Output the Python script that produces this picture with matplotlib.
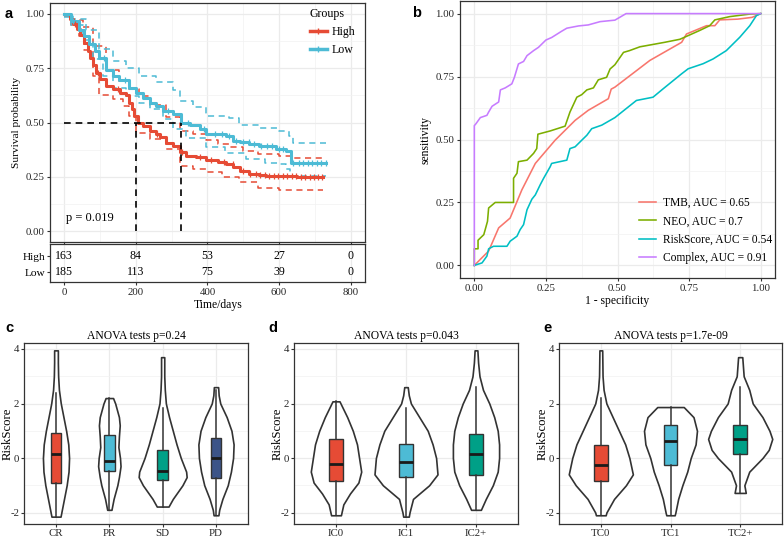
import numpy as np
import matplotlib
matplotlib.use('Agg')
import matplotlib.pyplot as plt
from matplotlib.lines import Line2D
from matplotlib.ticker import MultipleLocator, FixedLocator

plt.rcParams['font.family'] = ['Liberation Serif', 'DejaVu Serif']
plt.rcParams['axes.unicode_minus'] = False

# ---------------- data: panel a (Kaplan-Meier) ----------------
high_t = [0, 15, 25, 35, 45, 56, 65, 72, 80, 89, 100, 117, 135, 155, 173, 182, 190, 196, 205, 219, 238,
          255, 266, 285, 303, 322, 340, 368, 396, 430, 452, 471, 490, 517, 545, 564, 600, 650, 723]
high_s = [1.0, 0.975, 0.955, 0.93, 0.905, 0.866, 0.83, 0.797, 0.765, 0.728, 0.70, 0.667, 0.652, 0.638,
          0.628, 0.59, 0.56, 0.529, 0.50, 0.484, 0.461, 0.445, 0.435, 0.407, 0.392, 0.365, 0.347, 0.342,
          0.328, 0.318, 0.31, 0.293, 0.278, 0.263, 0.258, 0.255, 0.252, 0.25, 0.25]
low_t = [0, 20, 42, 55, 70, 85, 98, 117, 135, 154, 182, 200, 219, 238, 256, 275, 303, 325, 350, 378,
         396, 415, 452, 471, 490, 517, 545, 592, 620, 634, 732]
low_s = [1.0, 0.965, 0.927, 0.9, 0.862, 0.83, 0.795, 0.74, 0.715, 0.697, 0.66, 0.637, 0.612, 0.59,
         0.575, 0.555, 0.537, 0.50, 0.487, 0.468, 0.446, 0.445, 0.44, 0.415, 0.41, 0.40, 0.39, 0.377,
         0.369, 0.315, 0.313]
high_up_t = [0, 20, 51, 79, 117, 154, 182, 210, 238, 285, 322, 360, 396, 430, 461, 500, 540, 601, 640, 723]
high_up_s = [1.0, 0.97, 0.94, 0.85, 0.74, 0.69, 0.655, 0.62, 0.58, 0.525, 0.46, 0.445, 0.42, 0.40,
             0.385, 0.37, 0.355, 0.345, 0.335, 0.333]
high_lo_t = [0, 20, 42, 56, 79, 98, 135, 163, 182, 201, 238, 285, 322, 360, 396, 440, 489, 540, 601, 723]
high_lo_s = [0.99, 0.95, 0.896, 0.835, 0.712, 0.628, 0.606, 0.575, 0.529, 0.453, 0.422, 0.376, 0.30,
             0.285, 0.27, 0.25, 0.225, 0.20, 0.19, 0.19]
low_up_t = [0, 23, 61, 98, 135, 173, 210, 256, 303, 322, 360, 396, 461, 489, 545, 601, 629, 638, 732]
low_up_s = [1.0, 0.975, 0.925, 0.84, 0.785, 0.75, 0.715, 0.685, 0.65, 0.60, 0.57, 0.53, 0.52, 0.49,
            0.475, 0.46, 0.44, 0.405, 0.405]
low_lo_t = [0, 20, 51, 79, 107, 135, 173, 210, 238, 275, 303, 340, 396, 450, 508, 560, 601, 620, 630, 732]
low_lo_s = [0.985, 0.95, 0.88, 0.79, 0.712, 0.659, 0.62, 0.59, 0.56, 0.514, 0.47, 0.43, 0.385, 0.36,
            0.33, 0.315, 0.307, 0.284, 0.254, 0.254]
high_cens = [30, 95, 150, 260, 330, 380, 410, 445, 470, 500, 520, 535, 548, 560, 572, 585, 598, 610,
             622, 635, 648, 660, 672, 685, 697, 710, 720]
low_cens = [25, 110, 170, 290, 345, 390, 420, 440, 460, 480, 500, 515, 530, 550, 565, 580, 600, 612,
            640, 655, 668, 680, 692, 705, 718, 730]
median_high = 200
median_low = 325
risk_times = [0, 200, 400, 600, 800]
risk_high = [163, 84, 53, 27, 0]
risk_low = [185, 113, 75, 39, 0]
p_value_text = "p = 0.019"

# ---------------- data: panel b (ROC) ----------------
tmb_fpr = [0, 0.021, 0.05, 0.085, 0.125, 0.166, 0.213, 0.282, 0.352, 0.398, 0.468, 0.478, 0.491,
           0.613, 0.724, 0.741, 0.811, 0.84, 0.857, 0.92, 0.97, 1.0]
tmb_tpr = [0, 0.024, 0.057, 0.149, 0.188, 0.30, 0.405, 0.497, 0.576, 0.616, 0.662, 0.70, 0.708,
           0.814, 0.886, 0.919, 0.952, 0.952, 0.975, 0.978, 0.985, 1.0]
neo_fpr = [0, 0, 0.013, 0.013, 0.033, 0.038, 0.046, 0.05, 0.073, 0.137, 0.137, 0.149, 0.154, 0.184,
           0.207, 0.218, 0.222, 0.265, 0.317, 0.334, 0.358, 0.375, 0.393, 0.416, 0.433, 0.462, 0.474,
           0.491, 0.521, 0.542, 0.578, 0.665, 0.718, 0.787, 0.822, 0.84, 0.892, 0.962, 1.0]
neo_tpr = [0, 0.066, 0.066, 0.10, 0.122, 0.142, 0.175, 0.228, 0.25, 0.25, 0.346, 0.366, 0.412, 0.418,
           0.445, 0.464, 0.521, 0.534, 0.553, 0.609, 0.668, 0.678, 0.697, 0.705, 0.737, 0.747, 0.78,
           0.797, 0.846, 0.853, 0.868, 0.886, 0.898, 0.933, 0.952, 0.975, 0.988, 0.998, 1.0]
risk_fpr = [0, 0.027, 0.044, 0.05, 0.067, 0.114, 0.125, 0.149, 0.16, 0.172, 0.184, 0.201, 0.213, 0.23,
            0.242, 0.265, 0.27, 0.323, 0.334, 0.352, 0.375, 0.393, 0.41, 0.445, 0.491, 0.566, 0.624,
            0.659, 0.724, 0.747, 0.799, 0.834, 0.88, 0.927, 0.962, 0.985, 1.0]
risk_tpr = [0, 0.01, 0.037, 0.066, 0.076, 0.076, 0.096, 0.116, 0.142, 0.162, 0.221, 0.263, 0.28, 0.32,
            0.346, 0.392, 0.405, 0.418, 0.464, 0.471, 0.497, 0.517, 0.543, 0.557, 0.587, 0.655, 0.668,
            0.701, 0.761, 0.781, 0.801, 0.82, 0.853, 0.906, 0.952, 0.992, 1.0]
complex_fpr = [0, 0, 0.006, 0.021, 0.044, 0.05, 0.062, 0.085, 0.091, 0.108, 0.131, 0.14, 0.154, 0.172,
               0.184, 0.207, 0.224, 0.25, 0.27, 0.305, 0.323, 0.364, 0.398, 0.439, 0.491, 0.53, 1.0]
complex_tpr = [0, 0.555, 0.563, 0.587, 0.596, 0.609, 0.632, 0.649, 0.697, 0.705, 0.721, 0.747, 0.80,
               0.81, 0.833, 0.853, 0.866, 0.895, 0.905, 0.93, 0.942, 0.951, 0.955, 0.968, 0.974, 1.0, 1.0]
roc_labels = ["TMB, AUC = 0.65", "NEO, AUC = 0.7", "RiskScore, AUC = 0.54", "Complex, AUC = 0.91"]

# ---------------- data: panels c, d, e (violins + boxes) ----------------
c_groups = ["CR", "PR", "SD", "PD"]
c_titles = "ANOVA tests p=0.24"
c_vy = [[-2.15, -2.0, -1.5, -1.0, -0.5, 0, 0.5, 1.0, 1.5, 2.0, 2.5, 3.0, 3.5, 3.95],
        [-1.9, -1.5, -1.0, -0.7, -0.3, 0, 0.4, 0.8, 1.2, 1.5, 2.0, 2.2],
        [-1.78, -1.5, -1.0, -0.7, -0.5, 0, 0.5, 1.0, 1.5, 2.0, 2.5, 3.0, 3.7],
        [-2.1, -1.9, -1.5, -1.0, -0.5, 0, 0.5, 1.0, 1.5, 2.0, 2.3, 2.6]]
c_vw = [[0.085, 0.10, 0.15, 0.20, 0.235, 0.245, 0.23, 0.19, 0.14, 0.09, 0.055, 0.04, 0.035, 0.035],
        [0.04, 0.08, 0.15, 0.18, 0.21, 0.20, 0.17, 0.18, 0.195, 0.18, 0.11, 0.07],
        [0.11, 0.19, 0.37, 0.45, 0.44, 0.34, 0.26, 0.19, 0.12, 0.06, 0.04, 0.03, 0.03],
        [0.045, 0.06, 0.12, 0.22, 0.28, 0.32, 0.33, 0.29, 0.20, 0.08, 0.05, 0.04]]
c_q1 = [-0.91, -0.48, -0.82, -0.74]
c_med = [0.14, -0.11, -0.46, -0.01]
c_q3 = [0.93, 0.86, 0.30, 0.72]
c_lo = [-2.15, -1.9, -1.78, -2.1]
c_hi = [2.4, 2.2, 1.84, 2.5]

d_groups = ["IC0", "IC1", "IC2+"]
d_titles = "ANOVA tests p=0.043"
d_vy = [[-2.1, -1.7, -1.3, -0.9, -0.5, 0, 0.5, 1.0, 1.5, 2.08],
        [-2.15, -2.0, -1.5, -1.0, -0.6, 0, 0.5, 1.0, 1.5, 2.0, 2.3, 2.6],
        [-1.9, -1.5, -1.0, -0.5, 0, 0.5, 1.0, 1.5, 2.0, 2.5, 3.0, 3.5, 3.95]]
d_vw = [[0.07, 0.105, 0.20, 0.32, 0.36, 0.33, 0.30, 0.24, 0.16, 0.05],
        [0.04, 0.05, 0.10, 0.33, 0.45, 0.43, 0.38, 0.31, 0.19, 0.07, 0.04, 0.025],
        [0.07, 0.14, 0.24, 0.31, 0.33, 0.33, 0.31, 0.26, 0.19, 0.10, 0.05, 0.03, 0.02]]
d_q1 = [-0.86, -0.70, -0.62]
d_med = [-0.22, -0.13, 0.15]
d_q3 = [0.71, 0.51, 0.87]
d_lo = [-2.1, -2.15, -1.9]
d_hi = [2.08, 1.85, 2.6]

e_groups = ["TC0", "TC1", "TC2+"]
e_titles = "ANOVA tests p=1.7e-09"
e_vy = [[-2.1, -2.0, -1.5, -1.0, -0.6, 0, 0.5, 1.0, 1.5, 2.0, 2.5, 3.0, 3.95],
        [-2.1, -2.0, -1.5, -1.0, -0.5, 0, 0.5, 1.0, 1.5, 1.87],
        [-1.28, -1.0, -0.5, 0, 0.3, 0.7, 1.0, 1.5, 2.0, 2.5, 3.0, 3.7]]
e_vw = [[0.07, 0.08, 0.19, 0.36, 0.46, 0.41, 0.35, 0.26, 0.17, 0.08, 0.04, 0.025, 0.02],
        [0.06, 0.07, 0.11, 0.17, 0.24, 0.29, 0.36, 0.38, 0.33, 0.19],
        [0.08, 0.06, 0.13, 0.32, 0.41, 0.46, 0.42, 0.32, 0.18, 0.13, 0.05, 0.03]]
e_q1 = [-0.84, -0.24, 0.15]
e_med = [-0.25, 0.63, 0.69]
e_q3 = [0.47, 1.22, 1.22]
e_lo = [-2.1, -2.1, -1.28]
e_hi = [2.2, 1.87, 2.6]

npg = ['#E64B35', '#4DBBD5', '#00A087', '#3C5488']
roc_cols = ['#F8766D', '#7CAE00', '#00BFC4', '#C77CFF']
DARK = '#333333'
GRID = '#EBEBEB'

W, H = 784, 540
fig = plt.figure(figsize=(W / 100, H / 100), dpi=100)


def px_axes(l, t, r, b):
    return fig.add_axes([l / W, 1 - b / H, (r - l) / W, (b - t) / H])


def theme_bw(ax, fs=7.8):
    ax.set_facecolor('white')
    for s in ax.spines.values():
        s.set_color(DARK)
        s.set_linewidth(0.9)
    ax.grid(True, which='major', color=GRID, lw=0.9, zorder=0)
    ax.grid(True, which='minor', color='#F2F2F2', lw=0.5, zorder=0)
    ax.set_axisbelow(True)
    ax.tick_params(which='major', length=2.5, width=0.8, color=DARK, labelsize=fs,
                   labelcolor='#262626', pad=1.5)
    ax.tick_params(which='minor', length=0)


# ================= panel a =================
axa = px_axes(50, 3, 365, 242)
theme_bw(axa)
axa.set_xlim(-40, 840)
axa.set_ylim(-0.05, 1.05)
axa.xaxis.set_major_locator(FixedLocator(risk_times))
axa.xaxis.set_minor_locator(MultipleLocator(100))
axa.yaxis.set_major_locator(MultipleLocator(0.25))
axa.yaxis.set_minor_locator(MultipleLocator(0.125))
axa.yaxis.set_major_formatter(matplotlib.ticker.FormatStrFormatter('%.2f'))
axa.tick_params(axis='x', labelbottom=False)

ci_kw = dict(lw=1.1, ls=(0, (4, 3)), where='post')
axa.step(high_up_t, high_up_s, color=npg[0], **ci_kw)
axa.step(high_lo_t, high_lo_s, color=npg[0], **ci_kw)
axa.step(low_up_t, low_up_s, color=npg[1], **ci_kw)
axa.step(low_lo_t, low_lo_s, color=npg[1], **ci_kw)
axa.step(high_t, high_s, where='post', color=npg[0], lw=2.2)
axa.step(low_t, low_s, where='post', color=npg[1], lw=2.2)


def step_at(tt, ss, x):
    idx = np.searchsorted(np.array(tt), np.array(x), side='right') - 1
    return np.array(ss)[idx]


axa.plot(high_cens, step_at(high_t, high_s, high_cens), ls='none', marker='|', ms=4.5,
         mew=0.9, color=npg[0])
axa.plot(low_cens, step_at(low_t, low_s, low_cens), ls='none', marker='|', ms=4.5,
         mew=0.9, color=npg[1])

med_kw = dict(color='black', lw=1.2, ls=(0, (4, 3)))
axa.plot([0, median_low], [0.5, 0.5], **med_kw)
axa.plot([median_high, median_high], [0, 0.5], **med_kw)
axa.plot([median_low, median_low], [0, 0.5], **med_kw)
axa.text(5, 0.062, p_value_text, fontsize=9, ha='left', va='center')
axa.set_ylabel('Survival probability', fontsize=8.2, labelpad=3)

hnd = [Line2D([], [], color=npg[0], lw=2.5, marker='+', ms=5, mew=1),
       Line2D([], [], color=npg[1], lw=2.5, marker='+', ms=5, mew=1)]
leg = axa.legend(hnd, ['High', 'Low'], title='Groups', loc='upper right',
                 bbox_to_anchor=(0.995, 1.012), frameon=False, fontsize=8.6, title_fontsize=8.6,
                 handlelength=1.4, handletextpad=0.4, labelspacing=0.5, borderpad=0.2,
                 alignment='left')

# risk table
axt = px_axes(50, 244, 365, 282)
theme_bw(axt)
axt.grid(False, which='minor')
axt.set_xlim(-40, 840)
axt.set_ylim(-0.625, 1.75)
axt.xaxis.set_major_locator(FixedLocator(risk_times))
axt.set_yticks([1, 0])
axt.set_yticklabels(['High', 'Low'], fontsize=8.2, color='black')
axt.tick_params(axis='y', length=2.5, pad=1)
axt.grid(True, axis='x', color=GRID, lw=0.9)
axt.grid(False, axis='y')
for tx, hv, lv in zip(risk_times, risk_high, risk_low):
    axt.text(tx, 1, str(hv), ha='center', va='center', fontsize=8.6)
    axt.text(tx, 0, str(lv), ha='center', va='center', fontsize=8.6)
fig.text(218 / W, 1 - 305 / H, 'Time/days', ha='center', va='center', fontsize=8.4)

# ================= panel b =================
axb = px_axes(460, 1, 775, 278)
theme_bw(axb)
axb.set_xlim(-0.05, 1.05)
axb.set_ylim(-0.05, 1.05)
for a in (axb.xaxis, axb.yaxis):
    a.set_major_locator(MultipleLocator(0.25))
    a.set_minor_locator(MultipleLocator(0.125))
    a.set_major_formatter(matplotlib.ticker.FormatStrFormatter('%.2f'))
roc_sets = [(tmb_fpr, tmb_tpr), (neo_fpr, neo_tpr), (risk_fpr, risk_tpr), (complex_fpr, complex_tpr)]
lines = []
for (fx, fy), col in zip(roc_sets, roc_cols):
    ln, = axb.plot(fx, fy, color=col, lw=1.15)
    lines.append(ln)
axb.set_xlabel('1 - specificity', fontsize=8.4, labelpad=2)
axb.set_ylabel('sensitivity', fontsize=8.4, labelpad=3)
axb.legend(lines, roc_labels, loc='lower right', bbox_to_anchor=(0.99, 0.05), frameon=False,
           fontsize=8.3, handlelength=1.5, handletextpad=0.55, labelspacing=0.55, borderpad=0,
           borderaxespad=0)


# ================= panels c, d, e =================
def violin_panel(l, r, groups, title, vys, vws, q1, med, q3, lo, hi, cols):
    ax = px_axes(l, 343, r, 524)
    theme_bw(ax)
    ax.tick_params(which='major', pad=1.0)
    n = len(groups)
    ax.set_xlim(0.4, n + 0.6)
    ax.set_ylim(-2.42, 4.22)
    ax.set_xticks(range(1, n + 1))
    ax.set_xticklabels(groups, fontsize=7.8)
    ax.yaxis.set_major_locator(FixedLocator([-2, 0, 2, 4]))
    ax.yaxis.set_minor_locator(FixedLocator([-1, 1, 3]))
    ax.grid(False, which='minor', axis='x')
    for i in range(n):
        cx = i + 1
        vy = np.array(vys[i])
        vw = np.array(vws[i])
        ax.fill_betweenx(vy, cx - vw, cx + vw, facecolor='white', edgecolor=DARK, lw=1.2,
                         zorder=2)
    stats = [dict(med=med[i], q1=q1[i], q3=q3[i], whislo=lo[i], whishi=hi[i], fliers=[])
             for i in range(n)]
    bp = ax.bxp(stats, positions=list(range(1, n + 1)), widths=0.2, showcaps=False,
                patch_artist=True, showfliers=False, manage_ticks=False,
                boxprops=dict(edgecolor=DARK, lw=1.0),
                whiskerprops=dict(color=DARK, lw=1.1),
                medianprops=dict(color='#1a1a1a', lw=2.0), zorder=3)
    for patch, col in zip(bp['boxes'], cols):
        patch.set_facecolor(col)
    ax.set_title(title, fontsize=8.4, pad=3)
    fig.text((l - 16.5) / W, 1 - 433.5 / H, 'RiskScore', rotation=90, ha='center',
             va='center', fontsize=9.2)
    return ax


violin_panel(24, 248, c_groups, c_titles, c_vy, c_vw, c_q1, c_med, c_q3, c_lo, c_hi, npg)
violin_panel(294, 518, d_groups, d_titles, d_vy, d_vw, d_q1, d_med, d_q3, d_lo, d_hi, npg)
violin_panel(559, 782, e_groups, e_titles, e_vy, e_vw, e_q1, e_med, e_q3, e_lo, e_hi, npg)

# panel letters
let_kw = dict(fontsize=10.5, fontweight='bold', family=['Liberation Sans', 'DejaVu Sans'],
              ha='left', va='center')
for lab, x, y in [('a', 5, 14), ('b', 412, 13), ('c', 5, 328), ('d', 268, 328), ('e', 543, 328)]:
    fig.text(x / W, 1 - y / H, lab, **let_kw)

fig.savefig('out.png', dpi=100)
